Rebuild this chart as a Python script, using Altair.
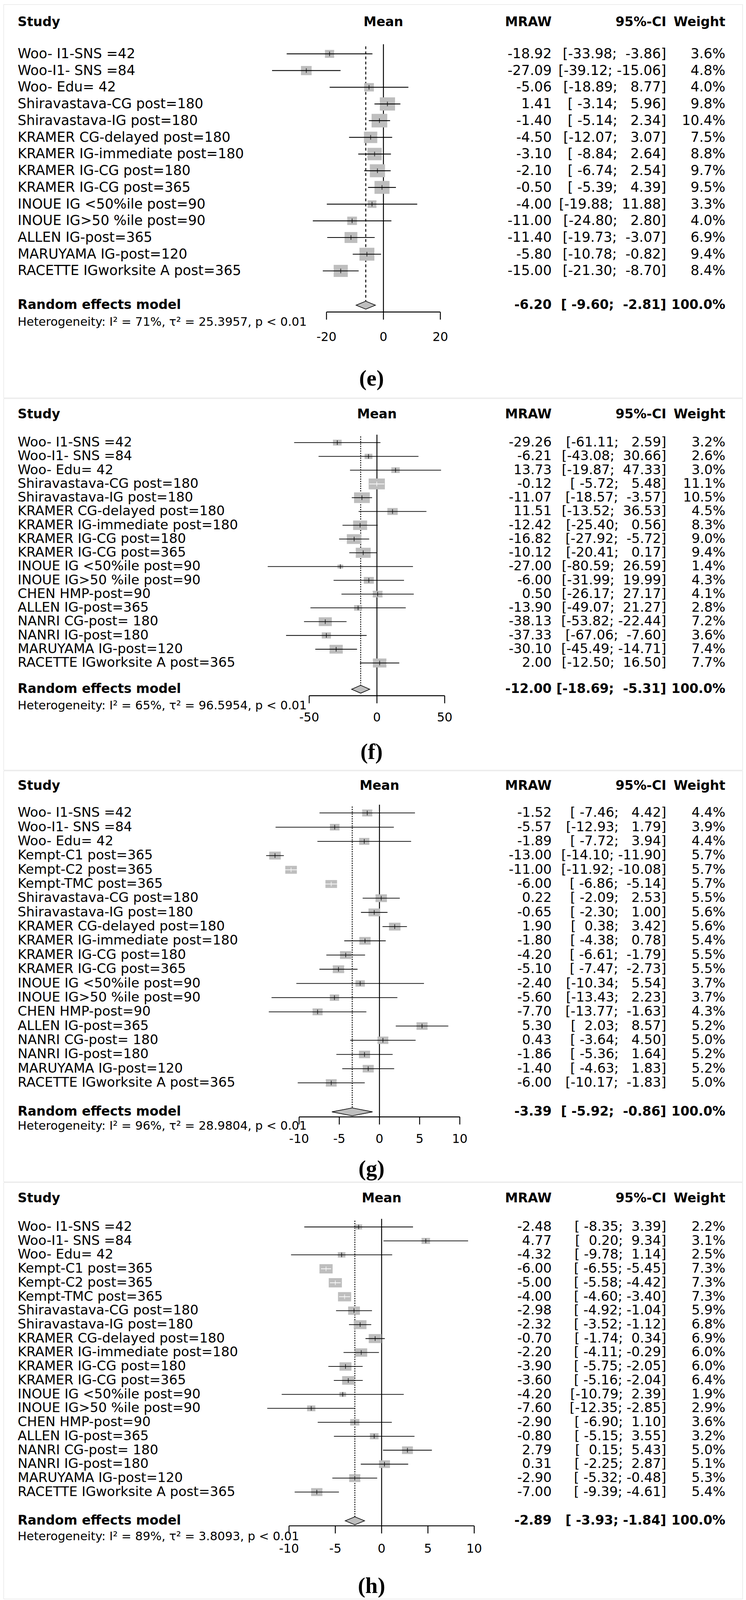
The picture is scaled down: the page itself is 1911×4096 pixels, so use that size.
import math
import altair as alt
import pandas as pd

# ---------------- data ----------------
names_ef = ["Woo- I1-SNS =42", "Woo-I1- SNS =84", "Woo- Edu= 42",
            "Shiravastava-CG post=180", "Shiravastava-IG post=180",
            "KRAMER CG-delayed post=180", "KRAMER IG-immediate post=180",
            "KRAMER IG-CG post=180", "KRAMER IG-CG post=365",
            "INOUE IG <50%ile post=90", "INOUE IG>50 %ile post=90"]

e_names = names_ef + ["ALLEN IG-post=365", "MARUYAMA IG-post=120", "RACETTE IGworksite A post=365"]
e_mean = [-18.92, -27.09, -5.06, 1.41, -1.40, -4.50, -3.10, -2.10, -0.50, -4.00, -11.00, -11.40, -5.80, -15.00]
e_lo = [-33.98, -39.12, -18.89, -3.14, -5.14, -12.07, -8.84, -6.74, -5.39, -19.88, -24.80, -19.73, -10.78, -21.30]
e_hi = [-3.86, -15.06, 8.77, 5.96, 2.34, 3.07, 2.64, 2.54, 4.39, 11.88, 2.80, -3.07, -0.82, -8.70]
e_w = [3.6, 4.8, 4.0, 9.8, 10.4, 7.5, 8.8, 9.7, 9.5, 3.3, 4.0, 6.9, 9.4, 8.4]
e_sum = [-6.20, -9.60, -2.81]
e_het = ["71%", "25.3957"]
e_ticks = [-20, 0, 20]

f_names = names_ef + ["CHEN HMP-post=90", "ALLEN IG-post=365", "NANRI CG-post= 180",
                      "NANRI IG-post=180", "MARUYAMA IG-post=120", "RACETTE IGworksite A post=365"]
f_mean = [-29.26, -6.21, 13.73, -0.12, -11.07, 11.51, -12.42, -16.82, -10.12, -27.00, -6.00, 0.50, -13.90, -38.13, -37.33, -30.10, 2.00]
f_lo = [-61.11, -43.08, -19.87, -5.72, -18.57, -13.52, -25.40, -27.92, -20.41, -80.59, -31.99, -26.17, -49.07, -53.82, -67.06, -45.49, -12.50]
f_hi = [2.59, 30.66, 47.33, 5.48, -3.57, 36.53, 0.56, -5.72, 0.17, 26.59, 19.99, 27.17, 21.27, -22.44, -7.60, -14.71, 16.50]
f_w = [3.2, 2.6, 3.0, 11.1, 10.5, 4.5, 8.3, 9.0, 9.4, 1.4, 4.3, 4.1, 2.8, 7.2, 3.6, 7.4, 7.7]
f_sum = [-12.00, -18.69, -5.31]
f_het = ["65%", "96.5954"]
f_ticks = [-50, 0, 50]

gh_names = ["Woo- I1-SNS =42", "Woo-I1- SNS =84", "Woo- Edu= 42",
            "Kempt-C1 post=365", "Kempt-C2 post=365", "Kempt-TMC post=365",
            "Shiravastava-CG post=180", "Shiravastava-IG post=180",
            "KRAMER CG-delayed post=180", "KRAMER IG-immediate post=180",
            "KRAMER IG-CG post=180", "KRAMER IG-CG post=365",
            "INOUE IG <50%ile post=90", "INOUE IG>50 %ile post=90",
            "CHEN HMP-post=90", "ALLEN IG-post=365", "NANRI CG-post= 180",
            "NANRI IG-post=180", "MARUYAMA IG-post=120", "RACETTE IGworksite A post=365"]

g_mean = [-1.52, -5.57, -1.89, -13.00, -11.00, -6.00, 0.22, -0.65, 1.90, -1.80, -4.20, -5.10, -2.40, -5.60, -7.70, 5.30, 0.43, -1.86, -1.40, -6.00]
g_lo = [-7.46, -12.93, -7.72, -14.10, -11.92, -6.86, -2.09, -2.30, 0.38, -4.38, -6.61, -7.47, -10.34, -13.43, -13.77, 2.03, -3.64, -5.36, -4.63, -10.17]
g_hi = [4.42, 1.79, 3.94, -11.90, -10.08, -5.14, 2.53, 1.00, 3.42, 0.78, -1.79, -2.73, 5.54, 2.23, -1.63, 8.57, 4.50, 1.64, 1.83, -1.83]
g_w = [4.4, 3.9, 4.4, 5.7, 5.7, 5.7, 5.5, 5.6, 5.6, 5.4, 5.5, 5.5, 3.7, 3.7, 4.3, 5.2, 5.0, 5.2, 5.2, 5.0]
g_sum = [-3.39, -5.92, -0.86]
g_het = ["96%", "28.9804"]
g_ticks = [-10, -5, 0, 5, 10]

h_mean = [-2.48, 4.77, -4.32, -6.00, -5.00, -4.00, -2.98, -2.32, -0.70, -2.20, -3.90, -3.60, -4.20, -7.60, -2.90, -0.80, 2.79, 0.31, -2.90, -7.00]
h_lo = [-8.35, 0.20, -9.78, -6.55, -5.58, -4.60, -4.92, -3.52, -1.74, -4.11, -5.75, -5.16, -10.79, -12.35, -6.90, -5.15, 0.15, -2.25, -5.32, -9.39]
h_hi = [3.39, 9.34, 1.14, -5.45, -4.42, -3.40, -1.04, -1.12, 0.34, -0.29, -2.05, -2.04, 2.39, -2.85, 1.10, 3.55, 5.43, 2.87, -0.48, -4.61]
h_w = [2.2, 3.1, 2.5, 7.3, 7.3, 7.3, 5.9, 6.8, 6.9, 6.0, 6.0, 6.4, 1.9, 2.9, 3.6, 3.2, 5.0, 5.1, 5.3, 5.4]
h_sum = [-2.89, -3.93, -1.84]
h_het = ["89%", "3.8093"]
h_ticks = [-10, -5, 0, 5, 10]

panel_labels = ["(e)", "(f)", "(g)", "(h)"]

# ---------------- layout (reference pixel units) ----------------
T = 0.924
PM = 8
W = 1895
FONT = "DejaVu Sans"
SERIF = "Liberation Serif"
NB = "\u00a0"

LAYOUT = [
    dict(top=0, H=1008, x0=1063, k=7.9, y1=146, dy=46.3, yh=58, ys=843, ya=862, yhet=890, yt=933, ylab=1047,
         fs=38, fh=36, aspect=0.86, lw=2.2, dash=[7, 6]),
    dict(top=1008, H=952, x0=1045, k=3.76, y1=1222, dy=38.2, yh=1144, ys=1906, ya=1924, yhet=1952, yt=1986, ylab=2081,
         fs=37, fh=36, aspect=0.67, lw=1.8, dash=[3, 3]),
    dict(top=1960, H=1053, x0=1052, k=22.3, y1=2247, dy=39.4, yh=2172, ys=3076, ya=3090, yhet=3116, yt=3152, ylab=3235,
         fs=37, fh=36, aspect=0.68, lw=1.8, dash=[3, 3]),
    dict(top=3013, H=1067, x0=1058, k=25.7, y1=3393, dy=38.7, yh=3314, ys=4208, ya=4222, yhet=4252, yt=4287, ylab=4390,
         fs=37, fh=36, aspect=0.70, lw=1.8, dash=[3, 3]),
]
X_LABEL = 48
X_MRAW = 1530
X_CI = 1848
X_WT = 2012
BOX_MAX = 45  # widest box, reference px
GREY = "#BEBEBE"


def fmt(v):
    return f"{v:.2f}"


def panel(names, mean, lo, hi, w, summ, het, ticks, label, L):
    n = len(names)
    top, H, x0, k, y1, dy = L["top"], L["H"], L["x0"], L["k"], L["y1"], L["dy"]

    def r(yf):
        return 1 + (yf - y1) / dy

    def px(xf):
        return xf * T - PM

    r_top = r((top + PM) / T)
    r_bot = r((top + PM + H) / T)
    v_l = ((0 + PM) / T - x0) / k
    v_r = ((W + PM) / T - x0) / k
    xs = alt.Scale(domain=[v_l, v_r], nice=False, zero=False)
    ys = alt.Scale(domain=[r_top, r_bot], nice=False, zero=False, reverse=True)
    X = lambda f: alt.X(f, type="quantitative", scale=xs, axis=None)
    Y = lambda f: alt.Y(f, type="quantitative", scale=ys, axis=None)

    fs = L["fs"] * T
    fh = L["fh"] * T
    fhet = 33 * T
    ftick = 34 * T

    los = [fmt(v) for v in lo + [summ[1]]]
    his = [fmt(v) for v in hi + [summ[2]]]
    lw_ = max(map(len, los))
    hw_ = max(map(len, his))
    ci = ["[" + a.rjust(lw_, NB) + ";" + NB + b.rjust(hw_, NB) + "]" for a, b in zip(los, his)]

    wmax = max(w)
    box_w = [BOX_MAX * math.sqrt(x / wmax) for x in w]
    col = ["white" if (b - a) * k < bw else "black" for a, b, bw in zip(lo, hi, box_w)]

    df = pd.DataFrame({
        "name": names, "mean": mean, "lo": lo, "hi": hi, "w": w,
        "r": list(range(1, n + 1)),
        "mtxt": [fmt(v) for v in mean], "ci": ci[:n],
        "wtxt": [f"{v:.1f}%" for v in w], "c": col,
    })
    base = alt.Chart(df)
    size_max = (BOX_MAX * T) ** 2
    a = L["aspect"]
    path = f"M-1,-{a}L1,-{a}L1,{a}L-1,{a}Z"

    rs = r(L["ys"])
    ra = r(L["ya"])
    dh = 11 / dy

    layers = []
    # zero line
    layers.append(alt.Chart(pd.DataFrame({"v": [0], "a": [1 - 0.58], "b": [ra]})).mark_rule(
        color="black", strokeWidth=2.4).encode(x=X("v"), y=Y("a"), y2="b"))
    # summary dotted line
    layers.append(alt.Chart(pd.DataFrame({"v": [summ[0]], "a": [1 - 0.45], "b": [rs - dh]})).mark_rule(
        color="black", strokeWidth=2.4, strokeDash=L["dash"]).encode(x=X("v"), y=Y("a"), y2="b"))
    # boxes
    layers.append(base.mark_point(shape=path, filled=True, opacity=1, strokeWidth=0, color=GREY).encode(
        x=X("mean"), y=Y("r"),
        size=alt.Size("w:Q", scale=alt.Scale(domain=[0, wmax], range=[0, size_max], zero=True), legend=None)))
    # CI lines
    layers.append(base.mark_rule(strokeWidth=L["lw"]).encode(
        x=X("lo"), x2="hi", y=Y("r"), color=alt.Color("c:N", scale=None)))
    # mean ticks
    layers.append(base.mark_tick(orient="vertical", size=12, thickness=2).encode(
        x=X("mean"), y=Y("r"), color=alt.Color("c:N", scale=None)))
    # diamond
    dd = pd.DataFrame({"v": [summ[1], summ[0], summ[2]], "a": [rs, rs - dh, rs], "b": [rs, rs + dh, rs]})
    layers.append(alt.Chart(dd).mark_area(fill=GREY, stroke="black", strokeWidth=1.6, opacity=1).encode(
        x=X("v"), y=Y("a"), y2="b"))
    # axis
    layers.append(alt.Chart(pd.DataFrame({"a": [min(ticks)], "b": [max(ticks)], "r": [ra]})).mark_rule(
        color="black", strokeWidth=2.4).encode(x=X("a"), x2="b", y=Y("r")))
    tdf = pd.DataFrame({"t": ticks, "a": [ra] * len(ticks), "b": [ra + 21 / dy] * len(ticks),
                        "lab": [str(t) for t in ticks], "rl": [r(L["yt"])] * len(ticks)})
    layers.append(alt.Chart(tdf).mark_rule(color="black", strokeWidth=2.4).encode(x=X("t"), y=Y("a"), y2="b"))
    layers.append(alt.Chart(tdf).mark_text(font=FONT, fontSize=ftick, baseline="middle", align="center",
                                           color="black").encode(x=X("t"), y=Y("rl"), text="lab:N"))
    # study text columns
    layers.append(base.mark_text(font=FONT, fontSize=fs, align="left", baseline="middle", color="black").encode(
        x=alt.value(px(X_LABEL)), y=Y("r"), text="name:N"))
    layers.append(base.mark_text(font=FONT, fontSize=fs, align="right", baseline="middle", color="black").encode(
        x=alt.value(px(X_MRAW)), y=Y("r"), text="mtxt:N"))
    layers.append(base.mark_text(font=FONT, fontSize=fs, align="right", baseline="middle", color="black").encode(
        x=alt.value(px(X_CI)), y=Y("r"), text="ci:N"))
    layers.append(base.mark_text(font=FONT, fontSize=fs, align="right", baseline="middle", color="black").encode(
        x=alt.value(px(X_WT)), y=Y("r"), text="wtxt:N"))
    # headers
    rh = r(L["yh"])
    hdr = [("Study", px(X_LABEL), "left"), ("MRAW", px(X_MRAW), "right"),
           ("95%-CI", px(X_CI), "right"), ("Weight", px(X_WT), "right")]
    for txt, xx, al in hdr:
        layers.append(alt.Chart(pd.DataFrame({"t": [txt], "r": [rh]})).mark_text(
            font=FONT, fontSize=fh, fontWeight="bold", align=al, baseline="middle", color="black").encode(
            x=alt.value(xx), y=Y("r"), text="t:N"))
    layers.append(alt.Chart(pd.DataFrame({"t": ["Mean"], "r": [rh], "v": [0]})).mark_text(
        font=FONT, fontSize=fh, fontWeight="bold", align="center", baseline="middle", color="black").encode(
        x=X("v"), y=Y("r"), text="t:N"))
    # summary row
    srow = [("Random effects model", px(X_LABEL), "left"), (fmt(summ[0]), px(X_MRAW), "right"),
            (ci[n], px(X_CI), "right"), ("100.0%", px(X_WT), "right")]
    for txt, xx, al in srow:
        layers.append(alt.Chart(pd.DataFrame({"t": [txt], "r": [rs]})).mark_text(
            font=FONT, fontSize=fh, fontWeight="bold", align=al, baseline="middle", color="black").encode(
            x=alt.value(xx), y=Y("r"), text="t:N"))
    # heterogeneity
    htxt = f"Heterogeneity: I\u00b2 = {het[0]}, \u03c4\u00b2 = {het[1]}, p < 0.01"
    layers.append(alt.Chart(pd.DataFrame({"t": [htxt], "r": [r(L["yhet"])]})).mark_text(
        font=FONT, fontSize=fhet, align="left", baseline="middle", color="black").encode(
        x=alt.value(px(X_LABEL)), y=Y("r"), text="t:N"))
    # panel label
    layers.append(alt.Chart(pd.DataFrame({"t": [label], "r": [r(L["ylab"])]})).mark_text(
        font=SERIF, fontSize=62 * T, fontWeight="bold", align="center", baseline="middle", color="black").encode(
        x=alt.value(px(1030)), y=Y("r"), text="t:N"))

    return alt.layer(*layers).properties(width=W, height=H)


panels = [
    panel(e_names, e_mean, e_lo, e_hi, e_w, e_sum, e_het, e_ticks, panel_labels[0], LAYOUT[0]),
    panel(f_names, f_mean, f_lo, f_hi, f_w, f_sum, f_het, f_ticks, panel_labels[1], LAYOUT[1]),
    panel(gh_names, g_mean, g_lo, g_hi, g_w, g_sum, g_het, g_ticks, panel_labels[2], LAYOUT[2]),
    panel(gh_names, h_mean, h_lo, h_hi, h_w, h_sum, h_het, h_ticks, panel_labels[3], LAYOUT[3]),
]

chart = alt.vconcat(*panels, spacing=0, padding=0).configure_view(stroke=None).configure(background="white")
chart.save("out.html", embed_options={"renderer": "svg", "actions": False})
